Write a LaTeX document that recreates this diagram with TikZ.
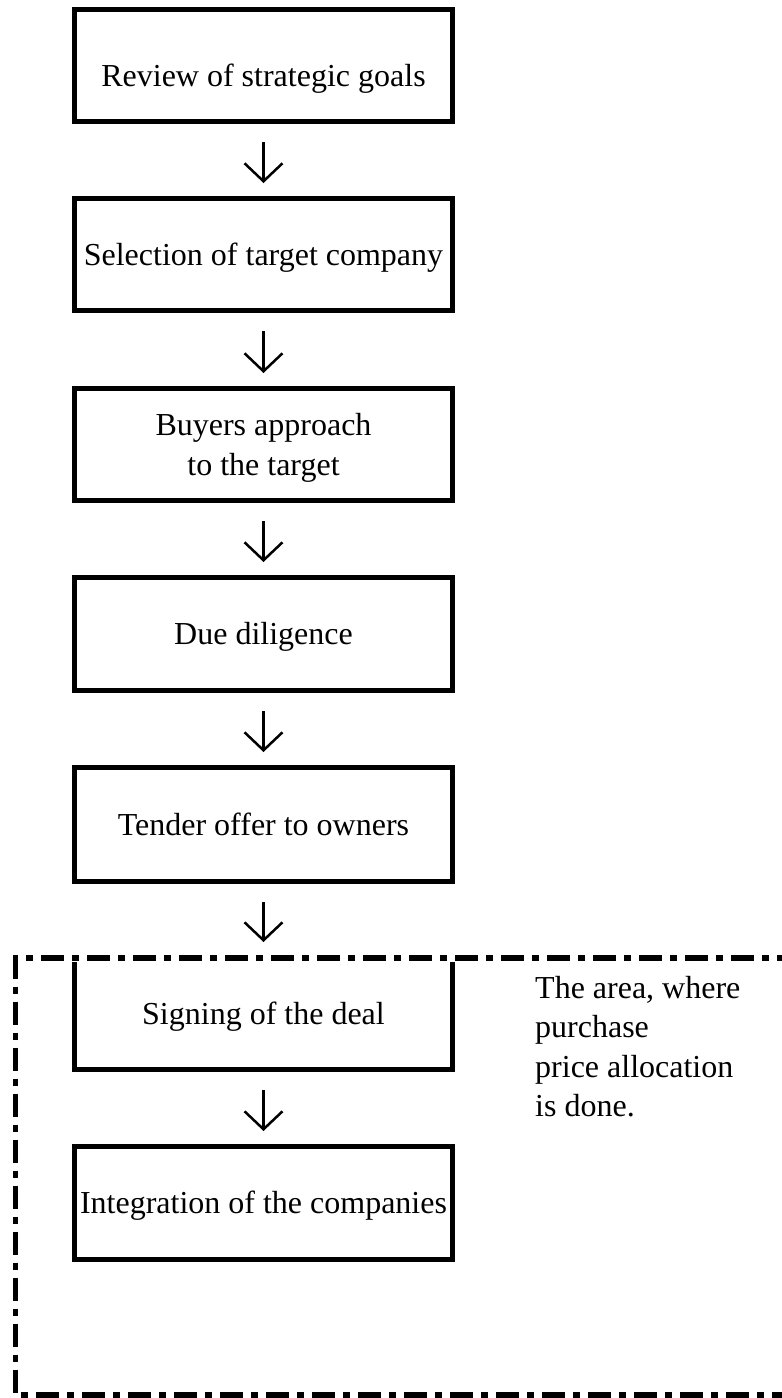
\documentclass[tikz,border=0pt]{standalone}
\usepackage{fontspec}
\setmainfont{Liberation Serif}
\usetikzlibrary{arrows.meta}
\begin{document}
\begin{tikzpicture}[x=1pt,y=-1pt,
  stepbox/.style={draw, line width=5pt, minimum width=378pt, inner sep=0pt,
    font=\fontsize{32}{40}\selectfont, text height=21.2pt, text depth=0pt},
  flow/.style={line width=2.5pt, -{Straight Barb[length=18pt,width=38pt]},
    shorten <=18pt, shorten >=13pt},
  areaframe/.style={line width=5.5pt, dash pattern=on 23pt off 8pt on 7pt off 8pt},
  note/.style={font=\fontsize{32}{39.5}\selectfont, inner sep=0pt, anchor=base west}]
\useasboundingbox (0,0) rectangle (782,1398);
\fill[white] (0,0) rectangle (782,1398);

\node[stepbox, minimum height=112pt, text height=41.2pt] (b1) at (263.5,65.5) {Review of strategic goals};
\node[stepbox, minimum height=112pt] (b2) at (263.5,254.5) {Selection of target company};
\node[stepbox, minimum height=112pt, text depth=40pt] (b3) at (263.5,444.5)
  {\begin{tabular}[t]{@{}c@{}}Buyers approach\\to the target\end{tabular}};
\node[stepbox, minimum height=113pt] (b4) at (263.5,634) {Due diligence};
\node[stepbox, minimum height=114pt] (b5) at (263.5,824.5) {Tender offer to owners};
\node[stepbox, minimum height=112pt] (b6) at (263.5,1013.5) {Signing of the deal};
\node[stepbox, minimum height=113pt] (b7) at (263.5,1203) {Integration of the companies};

\draw[flow] (b1) -- (b2);
\draw[flow] (b2) -- (b3);
\draw[flow] (b3) -- (b4);
\draw[flow] (b4) -- (b5);
\draw[flow] (b5) -- (b6);
\draw[flow] (b6) -- (b7);

\coordinate (ftr) at (800,958);
\coordinate (ftl) at (15.5,958);
\coordinate (fbl) at (15.5,1395);
\coordinate (fbr) at (800,1395);
\draw[white, line width=7pt] (ftl) -- (ftr);
\draw[areaframe] (ftr) -- (ftl) -- (fbl) -- (fbr);

\node[note] (area) at (535,998)
  {\begin{tabular}[t]{@{}l@{}}The area, where\\purchase\\price allocation\\is done.\end{tabular}};
\end{tikzpicture}
\end{document}
